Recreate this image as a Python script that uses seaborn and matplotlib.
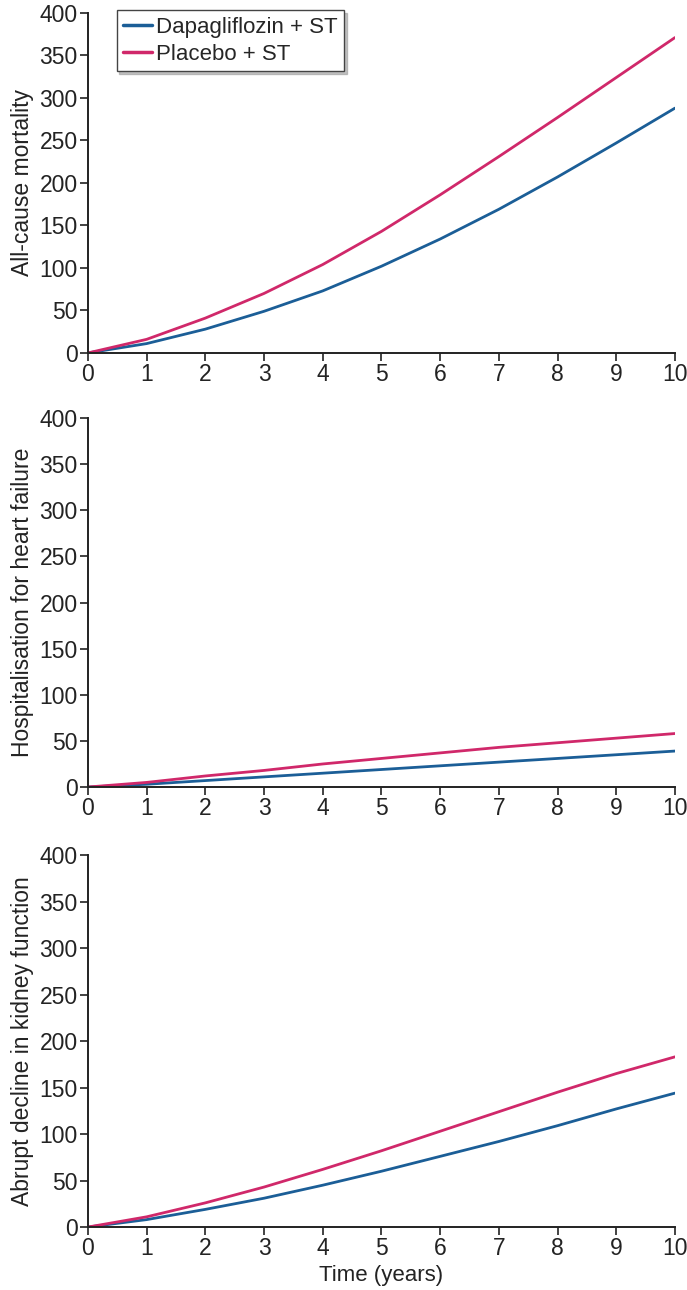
"""
Cumulative events over 10 years: dapagliflozin + ST vs placebo + ST
"""
import pandas as pd
import matplotlib
matplotlib.use("Agg")
import matplotlib.pyplot as plt
import seaborn as sns

# Data
years = [0, 1, 2, 3, 4, 5, 6, 7, 8, 9, 10]
groups = ["Dapagliflozin + ST", "Placebo + ST"]

mortality_dapa = [0, 11, 28, 49, 73, 102, 134, 169, 207, 247, 288]
mortality_plac = [0, 16, 41, 70, 104, 143, 186, 231, 277, 324, 371]

hf_dapa = [0, 3, 7, 11, 15, 19, 23, 27, 31, 35, 39]
hf_plac = [0, 5, 12, 18, 25, 31, 37, 43, 48, 53, 58]

kidney_dapa = [0, 8, 19, 31, 45, 60, 76, 92, 109, 127, 144]
kidney_plac = [0, 11, 26, 43, 62, 82, 103, 124, 145, 165, 183]

panel_labels = [
    "All-cause mortality",
    "Hospitalisation for heart failure",
    "Abrupt decline in kidney function",
]
y_ticks = [0, 50, 100, 150, 200, 250, 300, 350, 400]

COLORS = {"Dapagliflozin + ST": "#1b5e97", "Placebo + ST": "#d0286a"}
INK = "#232323"


def long_frame(dapa, plac):
    rows = []
    for g, vals in zip(groups, [dapa, plac]):
        for t, v in zip(years, vals):
            rows.append({"year": t, "events": v, "group": g})
    return pd.DataFrame(rows)


sns.set_theme(style="ticks")
plt.rcParams["font.family"] = ["Liberation Sans", "DejaVu Sans"]

fig = plt.figure(figsize=(6.87, 12.9), dpi=100)
positions = [
    [0.128, 0.7264, 0.8545, 0.2636],
    [0.128, 0.3899, 0.8545, 0.2860],
    [0.128, 0.0488, 0.8545, 0.2884],
]
series = [
    (mortality_dapa, mortality_plac),
    (hf_dapa, hf_plac),
    (kidney_dapa, kidney_plac),
]

for i, (pos, (d, p), label) in enumerate(zip(positions, series, panel_labels)):
    ax = fig.add_axes(pos)
    df = long_frame(d, p)
    sns.lineplot(data=df, x="year", y="events", hue="group", hue_order=groups,
                 palette=COLORS, linewidth=2.0, ax=ax, legend=(i == 0))
    ax.set_xlim(0, 10)
    ax.set_ylim(0, 400)
    ax.set_xticks(years)
    ax.set_yticks(y_ticks)
    ax.tick_params(axis="both", labelsize=16.5, length=6, width=1.2,
                   color=INK, labelcolor=INK, pad=1.5)
    for side in ["top", "right"]:
        ax.spines[side].set_visible(False)
    for side in ["left", "bottom"]:
        ax.spines[side].set_linewidth(1.4)
        ax.spines[side].set_color(INK)
    ax.set_ylabel(label, fontsize=16.5, color=INK, labelpad=4)
    ax.set_xlabel("Time (years)" if i == 2 else "", fontsize=16, color=INK, labelpad=3)
    for t in ax.get_xticklabels() + ax.get_yticklabels():
        t.set_clip_on(False)

    if i == 0:
        leg = ax.legend(loc="upper left", bbox_to_anchor=(0.03, 1.04), fontsize=16,
                        frameon=True, fancybox=False,
                        shadow={"color": "#9a9a9a", "alpha": 0.6},
                        handlelength=1.3, handletextpad=0.15, borderpad=0.3,
                        labelspacing=0.25)
        leg.get_frame().set_edgecolor("#444444")
        leg.get_frame().set_linewidth(1.0)
        for line in leg.get_lines():
            line.set_linewidth(2.5)

fig.savefig("out.png", dpi=100)
plt.close("all")
